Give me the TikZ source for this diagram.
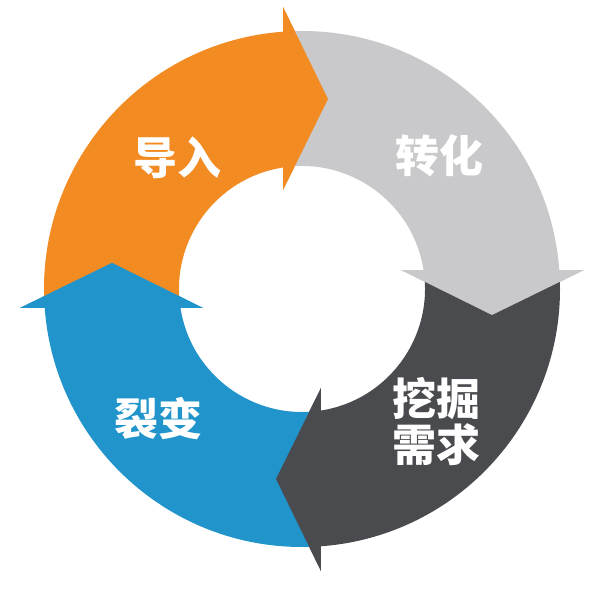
\documentclass[tikz,border=0pt]{standalone}
\usepackage{fontspec}
\newfontfamily\cjk{Noto Sans CJK SC}
\definecolor{cOrange}{HTML}{F28B22}
\definecolor{cLight}{HTML}{C9C9CB}
\definecolor{cDark}{HTML}{4A4B4F}
\definecolor{cBlue}{HTML}{2195CB}
% #1 rotation, #2 colour
\newcommand\cycseg[2]{%
  \fill[#2] (#1+184.22:258pt) arc[start angle=#1+184.22, end angle=#1+94.22, radius=258pt]
    -- (#1+93.85:282.64pt) -- (#1+82.21:191.77pt) -- (#1+100.86:100.81pt)
    -- (#1+98.88:123pt) arc[start angle=#1+98.88, end angle=#1+188.88, radius=123pt] -- cycle;}
\newcommand\cychead[2]{%
  \fill[#2] (#1+93.85:282.64pt) -- (#1+82.21:191.77pt) -- (#1+100.86:100.81pt) -- cycle;}
\tikzset{lbl/.style={text=white, font=\cjk\bfseries\fontsize{44}{46}\selectfont, align=center, inner sep=0pt}}
\begin{document}
\begin{tikzpicture}[x=1pt,y=1pt]
\useasboundingbox (0,0) rectangle (592,591);
\fill[white] (0,0) rectangle (592,591);
\begin{scope}[shift={(302,302)}]
  \cycseg{0}{cOrange}
  \cycseg{-90}{cLight}
  \cycseg{180}{cDark}
  \cycseg{90}{cBlue}
  \cychead{0}{cOrange}
  \cychead{-90}{cLight}
  \cychead{180}{cDark}
  \cychead{90}{cBlue}
\end{scope}
\node[lbl] (daoru) at (177,433) {导入};
\node[lbl] (zhuanhua) at (439,435) {转化};
\node[lbl] (wajue) at (436.5,169) {挖掘\\需求};
\node[lbl] (liebian) at (158,172) {裂变};
\end{tikzpicture}
\end{document}
